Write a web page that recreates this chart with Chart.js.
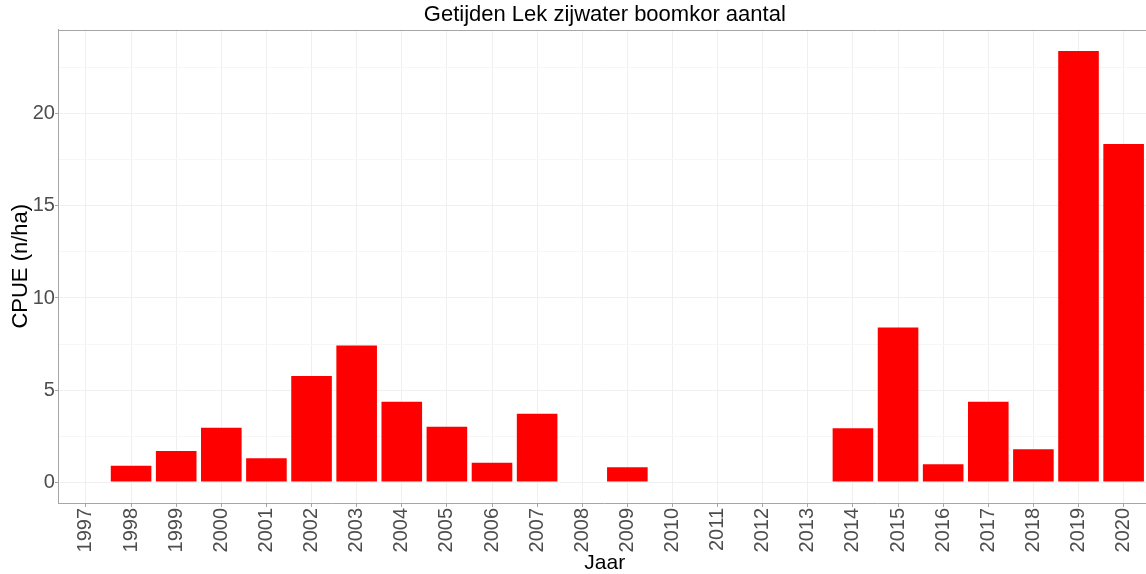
<!DOCTYPE html>
<html>
<head>
<meta charset="utf-8">
<script src="https://cdn.jsdelivr.net/npm/chart.js@4.4.1/dist/chart.umd.min.js"></script>
<style>
    html, body { margin: 0; padding: 0; background: #fff; overflow: hidden; }
    #wrap { width: 1160px; height: 574px; }
</style>
</head>
<body>
<div id="wrap"><canvas id="chart" width="1160" height="574"></canvas></div>
<script>
const years = [1997, 1998, 1999, 2000, 2001, 2002, 2003, 2004, 2005, 2006, 2007, 2008,
    2009, 2010, 2011, 2012, 2013, 2014, 2015, 2016, 2017, 2018, 2019, 2020];
const cpue = [0, 0.89, 1.68, 2.95, 1.29, 5.76, 7.42, 4.36, 3.0, 1.05, 3.71, 0,
    0.80, 0, 0, 0, 0, 2.92, 8.39, 0.96, 4.36, 1.78, 23.42, 18.37];
const yTicks = [0, 2.5, 5, 7.5, 10, 12.5, 15, 17.5, 20, 22.5];

const tickGrey = '#4d4d4d';
const borderGrey = '#a6a6a6';

const panelTop = {
    id: 'panelTop',
    afterDatasetsDraw(chart) {
        const a = chart.chartArea;
        const c = chart.ctx;
        c.save();
        c.strokeStyle = borderGrey;
        c.lineWidth = 1;
        c.beginPath();
        c.moveTo(a.left, Math.round(a.top) + 0.5);
        c.lineTo(a.right, Math.round(a.top) + 0.5);
        c.stroke();
        c.restore();
    }
};

const ctx = document.getElementById('chart');

new Chart(ctx, {
    type: 'bar',
    data: {
        datasets: [{
            data: years.map((y, i) => ({ x: y, y: cpue[i] })),
            backgroundColor: '#ff0000',
            borderWidth: 0,
            barPercentage: 0.9,
            categoryPercentage: 1.0
        }]
    },
    options: {
        responsive: false,
        animation: false,
        layout: { padding: { left: 0, right: 9.3, top: 0, bottom: 0 } },
        plugins: {
            legend: { display: false },
            tooltip: { enabled: false },
            title: {
                display: true,
                text: 'Getijden Lek zijwater boomkor aantal',
                fullSize: false,
                color: '#000',
                font: { family: 'Liberation Sans, Arial, sans-serif', size: 22, weight: 'normal', lineHeight: 1.2 },
                padding: { top: 2, bottom: 1.1 }
            }
        },
        scales: {
            x: {
                type: 'linear',
                offset: false,
                min: 1996.4,
                max: 2020.6,
                afterBuildTicks: (scale) => { scale.ticks = years.map(v => ({ value: v })); },
                afterFit: (scale) => { scale.height = 71; },
                ticks: {
                    autoSkip: false,
                    minRotation: 90,
                    maxRotation: 90,
                    padding: 1,
                    color: tickGrey,
                    font: { family: 'Liberation Sans, Arial, sans-serif', size: 20 },
                    callback: (v) => String(v)
                },
                grid: {
                    offset: false,
                    color: '#f0f0f0',
                    tickColor: borderGrey,
                    tickLength: 4,
                    lineWidth: 1
                },
                border: { color: borderGrey, width: 1 },
                title: {
                    display: true,
                    text: 'Jaar',
                    color: '#000',
                    font: { family: 'Liberation Sans, Arial, sans-serif', size: 21, lineHeight: 1 },
                    padding: { top: 0, bottom: 0 }
                }
            },
            y: {
                min: -1.14,
                max: 24.59,
                afterBuildTicks: (scale) => { scale.ticks = yTicks.map(v => ({ value: v })); },
                afterFit: (scale) => { scale.width = 58.9; },
                ticks: {
                    padding: 0,
                    color: tickGrey,
                    font: { family: 'Liberation Sans, Arial, sans-serif', size: 20 },
                    callback: (v) => (v % 5 === 0 ? String(v) : '')
                },
                grid: {
                    color: (c) => (c.tick && c.tick.value % 5 === 0 ? '#f0f0f0' : '#f6f6f6'),
                    tickColor: (c) => (c.tick && c.tick.value % 5 === 0 ? borderGrey : 'rgba(0,0,0,0)'),
                    tickLength: 4,
                    lineWidth: 1
                },
                border: { color: borderGrey, width: 1 },
                title: {
                    display: true,
                    text: 'CPUE (n/ha)',
                    color: '#000',
                    font: { family: 'Liberation Sans, Arial, sans-serif', size: 22, lineHeight: 1 },
                    padding: { top: 9.5, bottom: 0 }
                }
            }
        }
    },
    plugins: [panelTop]
});
</script>
</body>
</html>
